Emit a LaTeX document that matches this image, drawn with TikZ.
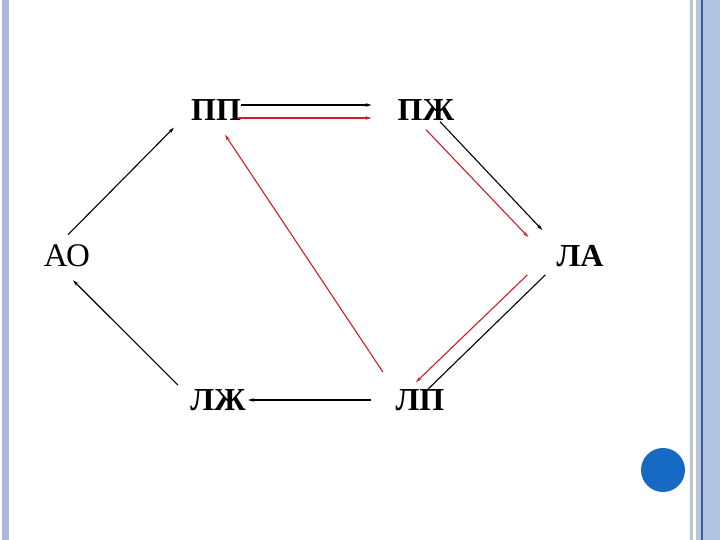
\documentclass[tikz,border=0pt]{standalone}
\usepackage{fontspec}
\setmainfont{Liberation Serif}
\usetikzlibrary{arrows.meta}
\definecolor{barblue}{RGB}{172,184,222}
\definecolor{edgegray}{RGB}{184,196,216}
\definecolor{edgeblue}{RGB}{178,196,226}
\definecolor{edgedark}{RGB}{52,96,170}
\definecolor{dotblue}{RGB}{22,106,196}
\definecolor{flowred}{RGB}{214,28,34}
\begin{document}
\begin{tikzpicture}[x=1pt,y=-1pt,
    chamber/.style={inner sep=0pt,font=\fontsize{32}{32}\selectfont\bfseries},
    flow/.style={line width=1.1pt,-{Stealth[length=6pt,width=3.5pt]}},
    redflow/.style={flow,flowred}]
    \useasboundingbox (0,0) rectangle (720,540);
    \fill[barblue] (2,0) rectangle (9,540);
    \fill[edgegray] (690,0) rectangle (693,540);
    \fill[edgegray] (696,0) rectangle (701,540);
    \fill[edgedark] (701,0) rectangle (703,540);
    \fill[edgeblue] (703,0) rectangle (720,540);
    \fill[dotblue] (663,470) circle (22);

    \node[chamber] (PP) at (216,110) {ПП};
    \node[chamber] (PZh) at (426,110) {ПЖ};
    \node[chamber,font=\fontsize{33}{33}\selectfont] (AO) at (67,256) {АО};
    \node[chamber] (LA) at (580,256) {ЛА};
    \node[chamber] (LZh) at (218,400) {ЛЖ};
    \node[chamber] (LP) at (420,400) {ЛП};

    \draw[flow] ([xshift=1pt,yshift=10pt]AO.north) -- ([xshift=-17pt,yshift=-7pt]PP.south west);
    \draw[flow] ([yshift=5pt]PP.east) -- ([xshift=-26pt,yshift=5pt]PZh.west);
    \draw[redflow] ([xshift=-3pt,yshift=-8pt]PP.east) -- ([xshift=-26pt,yshift=-8pt]PZh.west);
    \draw[flow] ([xshift=14pt,yshift=-1pt]PZh.south) -- ([xshift=-14pt,yshift=15pt]LA.north west);
    \draw[redflow] ([yshift=-9pt]PZh.south) -- ([xshift=-28pt,yshift=8pt]LA.north west);
    \draw[line width=1.1pt] ([xshift=-11pt,yshift=-8pt]LA.south west) -- ([xshift=8pt]LP.north);
    \draw[redflow] ([xshift=-29pt,yshift=-8pt]LA.south west) -- ([xshift=-4pt,yshift=7pt]LP.north);
    \draw[flow] ([xshift=-24pt]LP.west) -- ([xshift=2pt]LZh.east);
    \draw[flow] ([xshift=-12pt,yshift=4pt]LZh.north west) -- ([xshift=6pt,yshift=-13pt]AO.south);
    \draw[redflow] ([xshift=-37pt,yshift=17pt]LP.north) -- ([xshift=9pt,yshift=-14pt]PP.south);
\end{tikzpicture}
\end{document}
